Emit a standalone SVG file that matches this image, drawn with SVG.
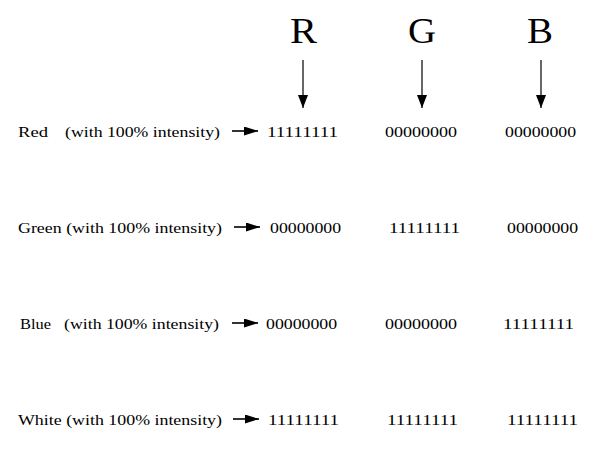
<svg xmlns="http://www.w3.org/2000/svg" width="597" height="449" viewBox="0 0 597 449">
<style>
text{font-family:'Liberation Serif','DejaVu Serif',serif;fill:#000}
.h{font-size:36px}
.l{font-size:15.5px}
.n{font-size:15.5px}
.c line{stroke:#000;stroke-width:1.2}
.c line.hz{stroke-width:1.6}
</style>
<defs>
<marker id="a" viewBox="0 0 10 13" refX="5" refY="13" markerWidth="10" markerHeight="13" markerUnits="userSpaceOnUse" orient="0">
<path d="M0,0L10,0L5,13z" fill="#000"/>
</marker>
<marker id="b" viewBox="0 0 14 9" refX="14" refY="4.5" markerWidth="14" markerHeight="9" markerUnits="userSpaceOnUse" orient="0">
<path d="M0,0L14,4.5L0,9z" fill="#000"/>
</marker>
</defs>
<g id="headers">
<text class="h" x="290" y="43" textLength="27" lengthAdjust="spacingAndGlyphs">R</text>
<text class="h" x="408" y="43" textLength="28" lengthAdjust="spacingAndGlyphs">G</text>
<text class="h" x="527" y="43" textLength="26" lengthAdjust="spacingAndGlyphs">B</text>
</g>
<g id="row-red">
<text class="l" x="18" y="137" textLength="30" lengthAdjust="spacingAndGlyphs">Red</text>
<text class="l" x="65" y="137" textLength="155" lengthAdjust="spacingAndGlyphs">(with 100% intensity)</text>
<text class="n" x="267" y="137" textLength="71" lengthAdjust="spacingAndGlyphs">11111111</text>
<text class="n" x="385" y="137" textLength="72" lengthAdjust="spacingAndGlyphs">00000000</text>
<text class="n" x="505" y="137" textLength="71" lengthAdjust="spacingAndGlyphs">00000000</text>
</g>
<g id="row-green">
<text class="l" x="18" y="233" textLength="204" lengthAdjust="spacingAndGlyphs">Green (with 100% intensity)</text>
<text class="n" x="270" y="233" textLength="71" lengthAdjust="spacingAndGlyphs">00000000</text>
<text class="n" x="389" y="233" textLength="71" lengthAdjust="spacingAndGlyphs">11111111</text>
<text class="n" x="507" y="233" textLength="71" lengthAdjust="spacingAndGlyphs">00000000</text>
</g>
<g id="row-blue">
<text class="l" x="20" y="329" textLength="31" lengthAdjust="spacingAndGlyphs">Blue</text>
<text class="l" x="64" y="329" textLength="155" lengthAdjust="spacingAndGlyphs">(with 100% intensity)</text>
<text class="n" x="266" y="329" textLength="71" lengthAdjust="spacingAndGlyphs">00000000</text>
<text class="n" x="385" y="329" textLength="72" lengthAdjust="spacingAndGlyphs">00000000</text>
<text class="n" x="503" y="329" textLength="71" lengthAdjust="spacingAndGlyphs">11111111</text>
</g>
<g id="row-white">
<text class="l" x="18" y="425" textLength="204" lengthAdjust="spacingAndGlyphs">White (with 100% intensity)</text>
<text class="n" x="268" y="425" textLength="71" lengthAdjust="spacingAndGlyphs">11111111</text>
<text class="n" x="387" y="425" textLength="71" lengthAdjust="spacingAndGlyphs">11111111</text>
<text class="n" x="507" y="425" textLength="71" lengthAdjust="spacingAndGlyphs">11111111</text>
</g>
<g id="connectors" class="c">
<line x1="303" y1="60" x2="303" y2="108" marker-end="url(#a)"/>
<line x1="422" y1="60" x2="422" y2="108" marker-end="url(#a)"/>
<line x1="541" y1="60" x2="541" y2="108" marker-end="url(#a)"/>
<line class="hz" x1="232" y1="131" x2="258" y2="131" marker-end="url(#b)"/>
<line class="hz" x1="234" y1="227" x2="260" y2="227" marker-end="url(#b)"/>
<line class="hz" x1="232" y1="323" x2="258" y2="323" marker-end="url(#b)"/>
<line class="hz" x1="233" y1="419" x2="259" y2="419" marker-end="url(#b)"/>
</g>
</svg>
